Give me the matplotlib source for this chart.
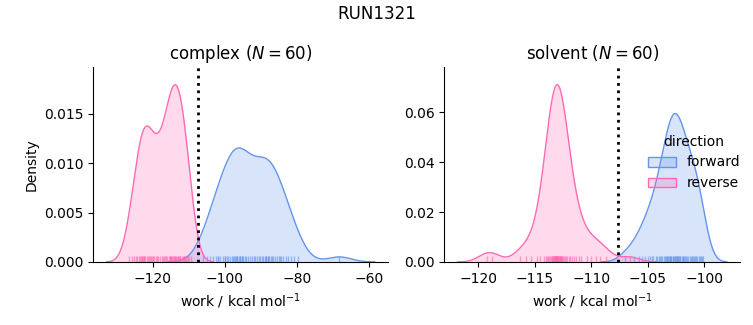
import matplotlib
matplotlib.use("Agg")
import matplotlib.pyplot as plt
import numpy as np
from matplotlib.patches import Patch

# work values (kcal/mol)
complex_forward = [
    -106.0, -104.9, -104.0, -103.2, -102.5, -101.8, -101.2, -100.6, -100.0, -99.5,
    -99.0, -98.5, -98.1, -97.7, -97.3, -96.9, -96.5, -96.1, -95.7, -95.3,
    -94.9, -94.5, -94.0, -93.5, -93.0, -92.5, -92.0, -91.5, -91.0, -90.5,
    -90.1, -89.7, -89.3, -88.9, -88.5, -88.1, -87.7, -87.3, -86.9, -86.5,
    -86.0, -85.5, -85.0, -84.4, -83.8, -83.1, -82.4, -81.6, -80.7, -79.6,
    -68.2, -97.5, -96.7, -95.9, -95.1, -88.7, -87.9, -99.8, -102.0, -84.8,
]
complex_reverse = [
    -126.5, -125.8, -125.2, -124.7, -124.3, -123.9, -123.5, -123.2, -122.9, -122.6,
    -122.3, -122.0, -121.7, -121.4, -121.1, -120.8, -120.5, -120.2, -119.9, -119.5,
    -119.1, -118.7, -122.4, -123.0,
    -118.5, -118.0, -117.5, -117.1, -116.7, -116.3, -115.9, -115.6, -115.3, -115.0,
    -114.7, -114.4, -114.1, -113.8, -113.5, -113.2, -112.9, -112.6, -112.3, -112.0,
    -111.7, -111.4, -111.1, -110.8, -110.5, -110.2, -109.9, -109.5, -114.8, -114.2,
    -113.7, -115.2, -113.1, -116.9, -112.4, -111.2,
]
solvent_forward = [
    -107.0, -106.2, -105.8, -105.5, -105.2, -105.0, -104.8, -104.6, -104.5, -104.3,
    -104.2, -104.0, -103.9, -103.8, -103.7, -103.6, -103.5, -103.4, -103.3, -103.2,
    -103.1, -103.0, -102.9, -102.8, -102.75, -102.7, -102.6, -102.5, -102.45, -102.4,
    -102.3, -102.2, -102.15, -102.1, -102.0, -101.9, -101.85, -101.8, -101.7, -101.6,
    -101.5, -101.4, -101.3, -101.2, -101.1, -101.0, -100.9, -100.8, -100.7, -100.6,
    -100.5, -100.4, -100.3, -100.2, -100.1, -103.05, -102.55, -102.95, -103.25, -102.35,
]
solvent_reverse = [
    -119.2, -118.8, -106.6,
    -116.3, -115.8, -115.3, -114.8, -114.5,
    -114.2, -114.0, -113.9, -113.8, -113.7, -113.6, -113.55, -113.5, -113.45, -113.4,
    -113.35, -113.3, -113.25, -113.2, -113.15, -113.1, -113.05, -113.0, -112.95, -112.9,
    -112.85, -112.8, -112.75, -112.7, -112.65, -112.6, -112.55, -112.5, -112.4, -112.3,
    -112.2, -112.1, -112.0, -111.9, -111.7, -111.5, -111.3, -113.12, -113.02, -112.98,
    -113.08, -112.88, -113.18, -112.78, -113.28,
    -110.9, -110.4, -110.0, -109.6, -109.2, -108.7, -111.1,
]
# free energy estimate per phase (dotted line)
estimate = {"complex": -107.3, "solvent": -107.6}

colors = {"forward": "cornflowerblue", "reverse": "hotpink"}


def kde(values, weight, gridsize=200, cut=3):
	# gaussian kde, scott bandwidth, like seaborn
	x = np.asarray(values, float)
	bw = len(x) ** (-1 / 5) * x.std(ddof=1)
	grid = np.linspace(x.min() - cut * bw, x.max() + cut * bw, gridsize)
	d = np.exp(-0.5 * ((grid[:, None] - x[None, :]) / bw) ** 2).sum(1)
	d = d / (len(x) * bw * np.sqrt(2 * np.pi))
	return grid, d * weight


def panel(ax, name, fwd, rev):
	total = len(complex_forward) + len(complex_reverse) + len(solvent_forward) + len(solvent_reverse)
	for key, vals in (("forward", fwd), ("reverse", rev)):
		g, d = kde(vals, len(vals) / total)
		ax.fill_between(g, d, color=colors[key], alpha=0.25, lw=0)
		ax.plot(g, d, color=colors[key], lw=1)
		ax.vlines(vals, 0, 0.03, transform=ax.get_xaxis_transform(), color=colors[key], lw=1, alpha=0.6)
	ax.axvline(estimate[name], color="k", ls=":", lw=2)
	ax.margins(y=0.1)
	ax.set_ylim(bottom=0)
	ax.set_title(f"{name} ($N={len(fwd)}$)")
	ax.set_xlabel("work / kcal mol$^{-1}$")
	ax.spines["top"].set_visible(False)
	ax.spines["right"].set_visible(False)


fig = plt.figure(figsize=(7.53, 3.25), dpi=100)
ax1 = fig.add_axes([0.1235, 0.194, 0.392, 0.6])
ax2 = fig.add_axes([0.590, 0.194, 0.393, 0.6])
panel(ax1, "complex", complex_forward, complex_reverse)
panel(ax2, "solvent", solvent_forward, solvent_reverse)
ax1.set_ylabel("Density")

handles = [Patch(facecolor=matplotlib.colors.to_rgba(colors[k], 0.25), edgecolor=colors[k]) for k in colors]
fig.legend(handles, list(colors), title="direction", loc="center right",
           bbox_to_anchor=(1.0, 0.5), frameon=False)
fig.suptitle("RUN1321", y=0.985)
fig.savefig("out.png", dpi=100)
